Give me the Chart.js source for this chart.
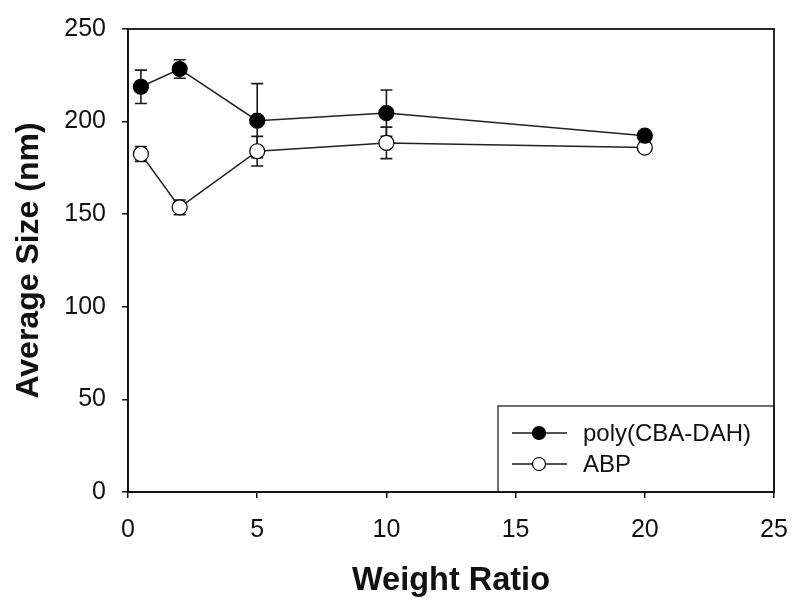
<!DOCTYPE html>
<html><head><meta charset="utf-8">
<script src="https://cdn.jsdelivr.net/npm/chart.js@4.4.1/dist/chart.umd.min.js"></script>
<style>html,body{margin:0;padding:0;background:#fff}#wrap{width:793px;height:605px;position:relative}</style>
</head><body><div id="wrap"><canvas id="c"></canvas></div>
<script>
const weightRatio = [0.5, 2, 5, 10, 20];
const polySize = [218.8, 228.4, 200.5, 204.6, 192.4];
const polyErr = [9, 5, 20, 12.5, 0];
const abpSize = [182.5, 153.7, 184.0, 188.5, 186.0];
const abpErr = [4, 4, 8, 8.5, 0];
const seriesNames = ['poly(CBA-DAH)', 'ABP'];
const xTitle = 'Weight Ratio';
const yTitle = 'Average Size (nm)';
const FONT = '"Liberation Sans", Arial, Helvetica, sans-serif';
const INK = '#111';

const errs = [polyErr, abpErr];

const errorBars = {
  id: 'errorBars',
  beforeDatasetsDraw(chart) {
    const ctx = chart.ctx, y = chart.scales.y;
    ctx.save();
    ctx.strokeStyle = '#1a1a1a';
    ctx.lineWidth = 1.6;
    chart.data.datasets.forEach((ds, i) => {
      const meta = chart.getDatasetMeta(i);
      meta.data.forEach((pt, j) => {
        const e = errs[i][j];
        if (!e) return;
        const v = ds.data[j].y;
        const yt = y.getPixelForValue(v + e), yb = y.getPixelForValue(v - e);
        const x = pt.x, hw = 6;
        ctx.beginPath();
        ctx.moveTo(x, yt); ctx.lineTo(x, yb);
        ctx.moveTo(x - hw, yt); ctx.lineTo(x + hw, yt);
        ctx.moveTo(x - hw, yb); ctx.lineTo(x + hw, yb);
        ctx.stroke();
      });
    });
    ctx.restore();
  }
};

const frameAndLegend = {
  id: 'frameAndLegend',
  afterDraw(chart) {
    const ctx = chart.ctx, a = chart.chartArea;
    ctx.save();
    const bx = a.right - 276, by = a.bottom - 86, bw = 276, bh = 86;
    ctx.fillStyle = '#fff';
    ctx.fillRect(bx, by, bw, bh);
    ctx.strokeStyle = INK;
    ctx.lineWidth = 1.2;
    ctx.strokeRect(bx, by, bw, bh);
    ctx.font = '24px ' + FONT;
    ctx.textBaseline = 'middle';
    ctx.textAlign = 'left';
    chart.data.datasets.forEach((ds, i) => {
      const ry = by + 27 + i * 31;
      ctx.strokeStyle = '#1a1a1a';
      ctx.lineWidth = 1.5;
      ctx.beginPath();
      ctx.moveTo(bx + 14, ry); ctx.lineTo(bx + 69, ry);
      ctx.stroke();
      ctx.beginPath();
      ctx.arc(bx + 41, ry, 6.5, 0, Math.PI * 2);
      ctx.fillStyle = ds.pointBackgroundColor;
      ctx.fill();
      ctx.lineWidth = 1.2;
      ctx.strokeStyle = '#000';
      ctx.stroke();
      ctx.fillStyle = INK;
      ctx.fillText(ds.label, bx + 85, ry + 1);
    });
    ctx.strokeStyle = INK;
    ctx.lineWidth = 1.8;
    ctx.strokeRect(a.left, a.top, a.right - a.left, a.bottom - a.top);
    ctx.restore();
  }
};

new Chart(document.getElementById('c'), {
  type: 'line',
  data: {
    datasets: [
      {
        label: seriesNames[0],
        data: weightRatio.map((x, i) => ({x, y: polySize[i]})),
        borderColor: '#222', borderWidth: 1.5,
        pointBackgroundColor: '#000', pointBorderColor: '#000',
        pointRadius: 7.5, pointBorderWidth: 1.2, pointHoverRadius: 7.5,
        tension: 0, fill: false
      },
      {
        label: seriesNames[1],
        data: weightRatio.map((x, i) => ({x, y: abpSize[i]})),
        borderColor: '#222', borderWidth: 1.5,
        pointBackgroundColor: '#fff', pointBorderColor: '#000',
        pointRadius: 7.5, pointBorderWidth: 1.2, pointHoverRadius: 7.5,
        tension: 0, fill: false
      }
    ]
  },
  options: {
    responsive: true,
    maintainAspectRatio: false,
    animation: false,
    layout: { padding: { top: 29, right: 19, left: 0, bottom: 0 } },
    plugins: { legend: { display: false }, tooltip: { enabled: false } },
    scales: {
      x: {
        type: 'linear', min: 0, max: 25,
        ticks: { stepSize: 5, color: INK, font: { size: 25, family: FONT }, padding: 17, maxRotation: 0 },
        grid: { drawOnChartArea: false, drawTicks: true, tickLength: 6, color: INK, lineWidth: 1.5 },
        border: { display: true, color: INK, width: 1.8 },
        title: { display: true, text: xTitle, color: INK, font: { size: 32.5, weight: 'bold', family: FONT }, padding: { top: 0, bottom: 4.5 } },
        afterFit(s) { s.height = 113; s.paddingLeft = 0; s.paddingRight = 0; }
      },
      y: {
        min: 0, max: 250,
        ticks: { stepSize: 50, color: INK, font: { size: 25, family: FONT }, padding: 16 },
        grid: { drawOnChartArea: false, drawTicks: true, tickLength: 6, color: INK, lineWidth: 1.5 },
        border: { display: true, color: INK, width: 1.8 },
        title: { display: true, text: yTitle, color: INK, font: { size: 32, weight: 'bold', family: FONT }, padding: { top: 10, bottom: 0 } },
        afterFit(s) { s.width = 128; s.paddingTop = 0; s.paddingBottom = 0; }
      }
    }
  },
  plugins: [errorBars, frameAndLegend]
});
</script>
</body></html>
